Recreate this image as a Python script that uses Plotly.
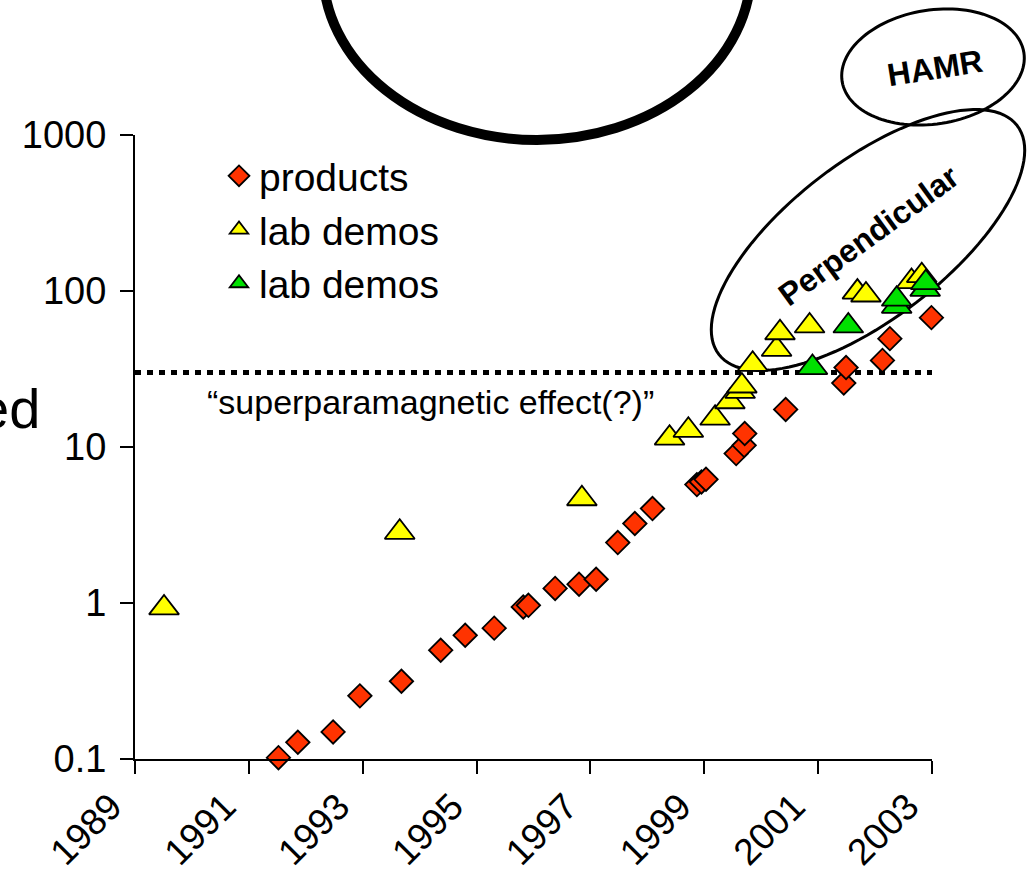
import math
import plotly.graph_objects as go

# ---------------- data ----------------
products_year = [1991.52, 1991.86, 1992.48, 1992.95, 1993.68, 1994.37, 1994.80, 1995.31,
                 1995.82, 1995.91, 1996.38, 1996.80, 1997.10, 1997.48, 1997.78, 1998.09,
                 1998.87, 1998.95, 1999.03, 1999.56, 1999.70, 1999.71, 2000.43, 2001.45,
                 2001.49, 2002.13, 2002.26, 2002.99]
products_val = [0.102, 0.128, 0.149, 0.254, 0.315, 0.498, 0.621, 0.69,
                0.943, 0.966, 1.24, 1.32, 1.42, 2.44, 3.23, 4.03,
                5.74, 5.97, 6.21, 9.07, 10.25, 12.2, 17.4, 25.7,
                32.3, 35.9, 49.5, 67.5]

yellow_year = [1989.51, 1993.65, 1996.85, 1998.39, 1998.72, 1999.19, 1999.45, 1999.63,
               1999.66, 1999.85, 2000.27, 2000.33, 2000.85, 2001.69, 2001.84, 2002.64,
               2002.82]
yellow_val = [0.93, 2.84, 4.66, 11.4, 12.8, 15.3, 19.5, 22.7,
              24.6, 33.9, 42.3, 54.0, 59.7, 98.4, 94.3, 115, 125.5]

green_year = [2000.90, 2001.53, 2002.38, 2002.38, 2002.88, 2002.89]
green_val = [32.3, 59.7, 79.8, 88.6, 102.5, 113]

superpara_level = 30
x_ticks = [1989, 1991, 1993, 1995, 1997, 1999, 2001, 2003]
x_ticktext = ["1989", "1991", "1993", "1995", "1997", "1999", "2001", "2003"]
y_ticks = [0.1, 1, 10, 100, 1000]
y_ticktext = ["0.1", "1", "10", "100", "1000"]

# ---------------- layout geometry ----------------
W, H = 1032, 880
ML, MR, MT, MB = 135, 100, 135, 121
PW, PH = W - ML - MR, H - MT - MB
FONT = "Liberation Sans, Arial, sans-serif"


def paper(x, y):
    return (x - ML) / PW, (H - MB - y) / PH


def ellipse_path(cx, cy, a, b, theta_deg, n=120):
    th = math.radians(theta_deg)
    pts = []
    for i in range(n):
        t = 2 * math.pi * i / n
        x = cx + a * math.cos(t) * math.cos(th) - b * math.sin(t) * math.sin(th)
        y = cy - (a * math.cos(t) * math.sin(th) + b * math.sin(t) * math.cos(th))
        px, py = paper(x, y)
        pts.append(f"{px:.5f},{py:.5f}")
    return "M" + " L".join(pts) + " Z"


fig = go.Figure()

fig.add_trace(go.Scatter(
    x=[x_ticks[0], x_ticks[-1]], y=[superpara_level, superpara_level],
    mode="lines", line=dict(color="black", width=5, dash="6px,6px"),
    showlegend=False, hoverinfo="skip"))

fig.add_trace(go.Scatter(
    x=products_year, y=products_val, mode="markers", name="products",
    marker=dict(symbol="diamond", size=18, color="#FF3300",
                line=dict(color="black", width=1.8)),
    cliponaxis=False))

fig.add_trace(go.Scatter(
    x=yellow_year, y=yellow_val, mode="markers", name="lab demos",
    marker=dict(symbol="triangle-up", size=26, color="#FFFF00",
                line=dict(color="black", width=1.8)),
    cliponaxis=False))

fig.add_trace(go.Scatter(
    x=green_year, y=green_val, mode="markers", name="lab demos",
    marker=dict(symbol="triangle-up", size=26, color="#00E000",
                line=dict(color="black", width=1.8)),
    cliponaxis=False))

shapes = []
# big circle at top (thick)
x0, y0 = paper(537 - 214, -30 + 170)
x1, y1 = paper(537 + 214, -30 - 170)
shapes.append(dict(type="circle", xref="paper", yref="paper", x0=x0, y0=y0, x1=x1, y1=y1,
                   line=dict(color="black", width=10), layer="below"))
# HAMR ellipse
shapes.append(dict(type="path", xref="paper", yref="paper",
                   path=ellipse_path(933, 67, 92, 57, 9),
                   line=dict(color="black", width=3), layer="below"))
# Perpendicular ellipse
shapes.append(dict(type="path", xref="paper", yref="paper",
                   path=ellipse_path(868, 240, 188, 79, 37.5),
                   line=dict(color="black", width=3), layer="below"))

annotations = []
ax, ay = paper(205, 402)
annotations.append(dict(xref="paper", yref="paper", x=ax, y=ay, xanchor="left", yanchor="middle",
                        text="“superparamagnetic effect(?)”", showarrow=False,
                        font=dict(family=FONT, size=34, color="black")))
ax, ay = paper(935, 68)
annotations.append(dict(xref="paper", yref="paper", x=ax, y=ay, xanchor="center", yanchor="middle",
                        text="<b>HAMR</b>", showarrow=False, textangle=-9,
                        font=dict(family=FONT, size=32, color="black")))
ax, ay = paper(868, 236)
annotations.append(dict(xref="paper", yref="paper", x=ax, y=ay, xanchor="center", yanchor="middle",
                        text="<b>Perpendicular</b>", showarrow=False, textangle=-36,
                        font=dict(family=FONT, size=32, color="black")))
ax, ay = paper(42, 408)
annotations.append(dict(xref="paper", yref="paper", x=ax, y=ay, xanchor="right", yanchor="middle",
                        text="ed", showarrow=False,
                        font=dict(family=FONT, size=56, color="black")))

lx, ly = paper(219, 144)
fig.update_layout(
    width=W, height=H,
    margin=dict(l=ML, r=MR, t=MT, b=MB, autoexpand=False),
    paper_bgcolor="white", plot_bgcolor="rgba(0,0,0,0)",
    font=dict(family=FONT, color="black"),
    shapes=shapes, annotations=annotations,
    legend=dict(x=lx, y=ly, xanchor="left", yanchor="top", bgcolor="rgba(0,0,0,0)",
                font=dict(family=FONT, size=39, color="black"), itemsizing="trace"),
    xaxis=dict(range=[x_ticks[0], x_ticks[-1]], tickvals=x_ticks, ticktext=x_ticktext,
               tickangle=-45, showgrid=False, zeroline=False, showline=True,
               linecolor="black", linewidth=2, ticks="outside", ticklen=13, tickwidth=2,
               tickcolor="black", ticklabelshift=-24, ticklabelstandoff=-4,
               tickfont=dict(family=FONT, size=37, color="black")),
    yaxis=dict(type="log", range=[-1, 3], tickvals=y_ticks, ticktext=y_ticktext,
               showgrid=False, zeroline=False, showline=True,
               linecolor="black", linewidth=2, ticks="outside", ticklen=13, tickwidth=2,
               tickcolor="black", ticklabelstandoff=6,
               tickfont=dict(family=FONT, size=38, color="black")),
)

fig.write_html("out.html", config={"displayModeBar": False},
               post_script="document.body.style.margin='0';")
